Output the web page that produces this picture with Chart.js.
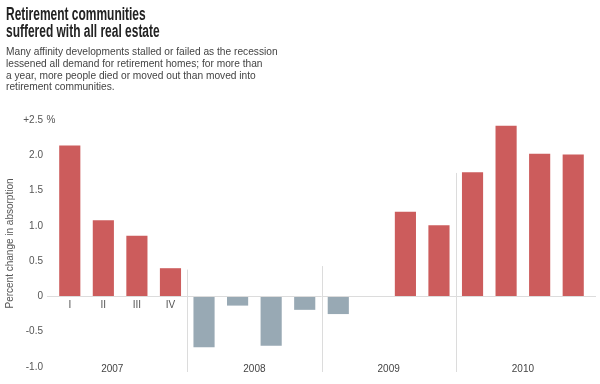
<!DOCTYPE html>
<html>
<head>
<meta charset="utf-8">
<script src="https://cdn.jsdelivr.net/npm/chart.js@4/dist/chart.umd.min.js"></script>
<style>
  html, body { margin: 0; padding: 0; background: #fff; }
  #wrap { position: relative; width: 600px; height: 384px; }
  #head { position: absolute; left: 6px; top: 5.5px; }
  #head h1 { margin: 0; font: bold 18px/17px "Liberation Sans", sans-serif; color: #222;
             transform: scaleX(0.665); transform-origin: left top; white-space: nowrap; }
  #head p { margin: 6.5px 0 0 0; font: 10.2px/11.8px "Liberation Sans", sans-serif; color: #444; }
  canvas { position: absolute; left: 0; top: 0; }
</style>
</head>
<body>
<div id="wrap">
  <canvas id="chart" width="600" height="384"></canvas>
  <div id="head">
    <h1>Retirement communities<br>suffered with all real estate</h1>
    <p>Many affinity developments stalled or failed as the recession<br>lessened all demand for retirement homes; for more than<br>a year, more people died or moved out than moved into<br>retirement communities.</p>
  </div>
</div>
<script>
// quarters 2007 Q1 .. 2010 Q4
const categories = ['2007 I','2007 II','2007 III','2007 IV',
                    '2008 I','2008 II','2008 III','2008 IV',
                    '2009 I','2009 II','2009 III','2009 IV',
                    '2010 I','2010 II','2010 III','2010 IV'];
const values = [2.14, 1.08, 0.86, 0.40,
                -0.72, -0.13, -0.70, -0.19,
                -0.25, null, 1.20, 1.01,
                1.76, 2.42, 2.02, 2.01];
const quarterLabels = ['I', 'II', 'III', 'IV'];   // only shown under 2007
const years = ['2007', '2008', '2009', '2010'];
const dividerTops = [0.38, 0.43, 1.75];          // where the year dividers start
const yTicks = [-1, -0.5, 0, 0.5, 1, 1.5, 2, 2.5];

const RED = '#cc5c5c';
const GREY = '#98a9b4';

const decor = {
  id: 'decor',
  afterDatasetsDraw(chart) {
    const ctx = chart.ctx;
    const xs = chart.scales.x, ys = chart.scales.y;
    const area = chart.chartArea;
    const step = xs.getPixelForValue(1) - xs.getPixelForValue(0);
    ctx.save();
    // zero line
    const y0 = Math.round(ys.getPixelForValue(0)) + 0.5;
    ctx.strokeStyle = '#dcdcdc';
    ctx.lineWidth = 1;
    ctx.beginPath();
    ctx.moveTo(area.left - 6, y0);
    ctx.lineTo(area.right + 6, y0);
    ctx.stroke();
    // year dividers
    const bounds = [area.left - 16];
    dividerTops.forEach((top, i) => {
      const x = Math.round(xs.getPixelForValue(i * 4 + 3) + step / 2) + 0.5;
      bounds.push(x);
      ctx.beginPath();
      ctx.moveTo(x, ys.getPixelForValue(top));
      ctx.lineTo(x, area.bottom + 5);
      ctx.stroke();
    });
    bounds.push(area.right);
    // quarter labels
    ctx.font = '10px "Liberation Sans", sans-serif';
    ctx.fillStyle = '#555';
    ctx.textAlign = 'center';
    ctx.textBaseline = 'middle';
    quarterLabels.forEach((q, i) => {
      ctx.fillText(q, xs.getPixelForValue(i), y0 + 9);
    });
    // year labels
    ctx.fillStyle = '#444';
    years.forEach((yr, i) => {
      const cx = i === 0 ? (bounds[0] + bounds[1]) / 2
                         : (xs.getPixelForValue(i * 4) + xs.getPixelForValue(i * 4 + 3)) / 2;
      ctx.fillText(yr, cx, area.bottom + 2);
    });
    // percent sign after the top tick
    ctx.textAlign = 'left';
    ctx.fillStyle = '#555';
    ctx.fillText('%', 46.5, ys.getPixelForValue(2.5));
    ctx.restore();
  }
};

new Chart(document.getElementById('chart'), {
  type: 'bar',
  data: {
    labels: categories,
    datasets: [{
      data: values,
      backgroundColor: values.map(v => v >= 0 ? RED : GREY),
      barPercentage: 0.63,
      categoryPercentage: 1
    }]
  },
  options: {
    responsive: false,
    animation: false,
    layout: { padding: { top: 120, right: 10, bottom: 17, left: 0 } },
    plugins: { legend: { display: false }, tooltip: { enabled: false } },
    scales: {
      x: { display: false },
      y: {
        min: -1, max: 2.5,
        afterBuildTicks: axis => { axis.ticks = yTicks.map(v => ({ value: v })); },
        afterFit: axis => { axis.width = 53; },
        grid: { display: false },
        border: { display: false },
        ticks: {
          padding: 2,
          color: '#555',
          font: { family: '"Liberation Sans", sans-serif', size: 10 },
          callback: v => v === 2.5 ? '+2.5' : (v === 0 ? '0' : v.toFixed(1))
        },
        title: {
          display: true,
          text: 'Percent change in absorption',
          color: '#555',
          padding: { top: 4, bottom: 0 },
          font: { family: '"Liberation Sans", sans-serif', size: 10 }
        }
      }
    }
  },
  plugins: [decor]
});
</script>
</body>
</html>
